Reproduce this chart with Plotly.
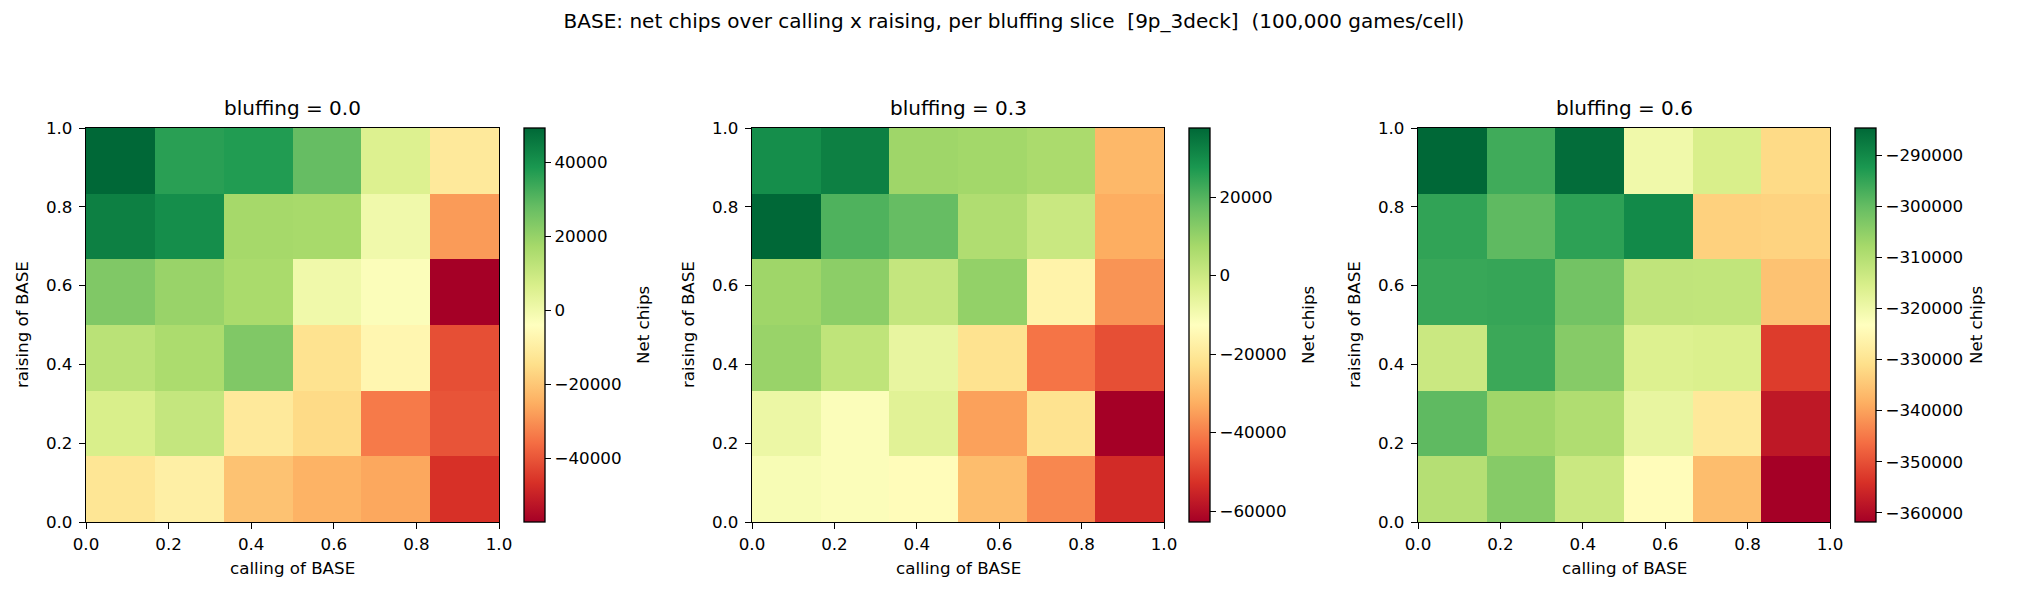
import numpy as np
import plotly.graph_objects as go

# grid levels (6 x 6 per slice); rows below are listed from raising = 0.0 upward
calling_levels = [0.0, 0.2, 0.4, 0.6, 0.8, 1.0]
raising_levels = [0.0, 0.2, 0.4, 0.6, 0.8, 1.0]
bluffing_slices = ["0.0", "0.3", "0.6"]

net_bluff_00 = [
    [-12600, -9400, -21100, -24300, -26400, -46700],
    [6600, 10900, -11500, -15800, -33900, -40300],
    [13000, 16000, 23600, -13600, -7200, -41300],
    [23600, 19400, 16500, 200, -3000, -57300],
    [43900, 40700, 17300, 16800, 100, -28500],
    [49200, 36400, 37500, 27900, 5500, -11500],
]
net_bluff_03 = [
    [-10600, -11600, -13600, -29700, -38700, -53800],
    [-7600, -11600, -4600, -34700, -21600, -62800],
    [9500, 2500, -6600, -21600, -41700, -47700],
    [8500, 11500, 1500, 10500, -16600, -36700],
    [37600, 20500, 17500, 5500, 500, -32700],
    [29600, 32600, 8500, 8000, 6500, -30700],
]
net_bluff_06 = [
    [-310100, -304000, -313200, -324000, -336400, -361800],
    [-299400, -307100, -309400, -318600, -328700, -358000],
    [-313200, -295800, -304000, -316300, -315900, -352600],
    [-295500, -295200, -301700, -311700, -311900, -335600],
    [-294700, -299400, -294300, -290100, -333300, -333000],
    [-284700, -296300, -285500, -320200, -315500, -331700],
]
slices = [net_bluff_00, net_bluff_03, net_bluff_06]
cbar_dticks = [20000, 20000, 10000]

W, H = 2028, 598
FONT = "DejaVu Sans"
TICK = 16.7

# pixel layout of the three panels (left, right) and the shared top/bottom
panel_px = [(86, 499), (752, 1164), (1418, 1830)]
top_px, bot_px = 128, 522

# cell edges from the level grid
x_edges = np.linspace(0, 1, len(calling_levels) + 1)
y_edges = np.linspace(0, 1, len(raising_levels) + 1)

def px_x(p):
    return p / W

def px_y(p):
    return 1 - p / H

fig = go.Figure()
annotations = []
ydom = [px_y(bot_px), px_y(top_px)]
ymid = (ydom[0] + ydom[1]) / 2

for i, (z, (l, r)) in enumerate(zip(slices, panel_px)):
    n = i + 1
    xa = "x" if n == 1 else f"x{n}"
    ya = "y" if n == 1 else f"y{n}"
    fig.add_trace(
        go.Heatmap(
            z=z,
            x=x_edges,
            y=y_edges,
            xaxis=xa,
            yaxis=ya,
            colorscale="RdYlGn",
            hoverinfo="z",
            colorbar=dict(
                x=px_x(r + 25),
                xanchor="left",
                y=ymid,
                yanchor="middle",
                lenmode="pixels",
                len=bot_px - top_px,
                thickness=21,
                xpad=0,
                ypad=0,
                outlinewidth=1.3,
                outlinecolor="black",
                ticks="outside",
                ticklen=6,
                tickwidth=1.3,
                tickcolor="black",
                tickformat="d",
                dtick=cbar_dticks[i],
                tickfont=dict(family=FONT, size=TICK, color="black"),
            ),
        )
    )
    axis_common = dict(
        range=[0, 1],
        dtick=0.2,
        tick0=0,
        tickformat=".1f",
        ticks="outside",
        ticklen=6,
        tickwidth=1.3,
        tickcolor="black",
        showline=True,
        linecolor="black",
        linewidth=1.3,
        mirror=True,
        showgrid=False,
        zeroline=False,
        automargin=False,
        tickfont=dict(family=FONT, size=TICK, color="black"),
    )
    fig.update_layout(
        {
            ("xaxis" if n == 1 else f"xaxis{n}"): dict(
                axis_common, domain=[px_x(l), px_x(r)], anchor=ya, ticklabelstandoff=1
            ),
            ("yaxis" if n == 1 else f"yaxis{n}"): dict(
                axis_common, domain=ydom, anchor=xa, ticklabelstandoff=3
            ),
        }
    )
    # panel title
    annotations.append(
        dict(
            text=f"bluffing = {bluffing_slices[i]}",
            x=px_x((l + r) / 2),
            y=px_y(122),
            xanchor="center",
            yanchor="bottom",
            font=dict(family=FONT, size=20, color="black"),
        )
    )
    # axis titles
    annotations.append(
        dict(
            text="calling of BASE",
            x=px_x((l + r) / 2),
            y=px_y(568),
            xanchor="center",
            yanchor="middle",
            font=dict(family=FONT, size=TICK, color="black"),
        )
    )
    annotations.append(
        dict(
            text="raising of BASE",
            textangle=-90,
            x=px_x(l - 64),
            y=ymid,
            xanchor="center",
            yanchor="middle",
            font=dict(family=FONT, size=TICK, color="black"),
        )
    )
    # colorbar label
    annotations.append(
        dict(
            text="Net chips",
            textangle=-90,
            x=px_x(r + 144 + (i == 2) * 2),
            y=ymid,
            xanchor="center",
            yanchor="middle",
            font=dict(family=FONT, size=TICK, color="black"),
        )
    )

for a in annotations:
    a.update(xref="paper", yref="paper", showarrow=False)

fig.update_layout(
    template="none",
    width=W,
    height=H,
    margin=dict(l=0, r=0, t=0, b=0),
    paper_bgcolor="white",
    plot_bgcolor="white",
    font=dict(family=FONT, color="black"),
    title=dict(
        text="BASE: net chips over calling x raising, per bluffing slice \u00a0[9p_3deck] \u00a0(100,000 games/cell)",
        x=0.5,
        xanchor="center",
        y=px_y(21),
        yanchor="middle",
        font=dict(family=FONT, size=20, color="black"),
    ),
    annotations=annotations,
)

# drop the browser's default body margin so the figure sits at the window corner
fig.write_html(
    "out.html",
    config={"displayModeBar": False},
    post_script="document.body.style.margin='0';",
)
